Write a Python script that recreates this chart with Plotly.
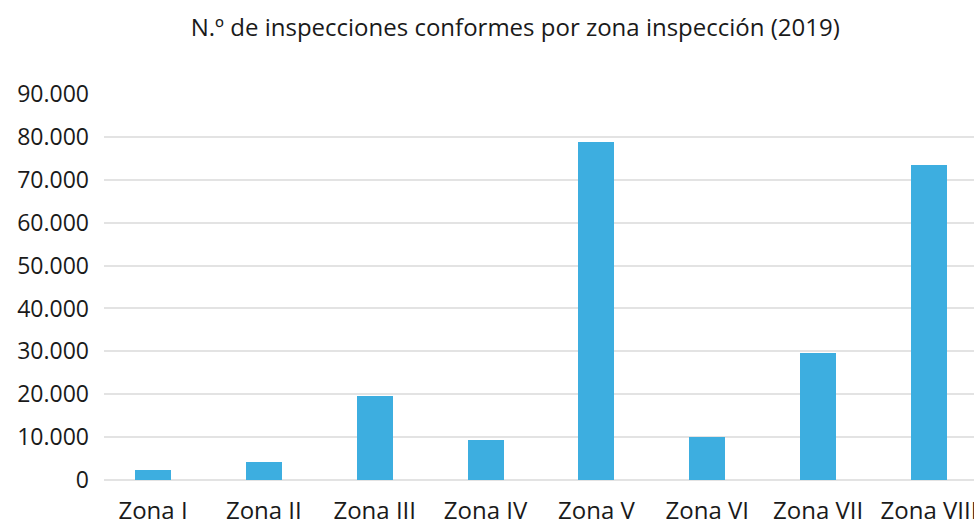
import plotly.graph_objects as go

categories = ["Zona I", "Zona II", "Zona III", "Zona IV", "Zona V", "Zona VI", "Zona VII", "Zona VIII"]
values = [2260, 4130, 19500, 9250, 78700, 10050, 29530, 73350]
tick_vals = [0, 10000, 20000, 30000, 40000, 50000, 60000, 70000, 80000, 90000]
tick_text = ["0", "10.000", "20.000", "30.000", "40.000", "50.000", "60.000", "70.000", "80.000", "90.000"]
title_text = "N.º de inspecciones conformes por zona inspección (2019)"

fig = go.Figure(go.Bar(x=list(range(len(categories))), y=values, width=0.325,
                       marker=dict(color="#3DAEE0", line=dict(width=0))))

fig.update_layout(
    width=974, height=525,
    margin=dict(l=104, r=0, t=94, b=45, pad=0),
    paper_bgcolor="white", plot_bgcolor="white",
    font=dict(family="Open Sans", color="#1a1a1a"),
    title=dict(text=title_text, x=0.529, xanchor="center", y=0.947, yanchor="middle",
               font=dict(size=24, family="Open Sans", color="#1a1a1a")),
    showlegend=False,
    bargap=0,
)
fig.update_xaxes(range=[-0.442, 7.406], tickvals=list(range(len(categories))), ticktext=categories,
                 showgrid=False, zeroline=False, showline=False, ticks="", automargin=False,
                 ticklabeloverflow="allow",
                 tickfont=dict(size=24), ticklabelstandoff=14)
fig.update_yaxes(range=[0, 90000], tickvals=tick_vals, ticktext=tick_text,
                 showgrid=True, gridcolor="#E3E3E3", gridwidth=1.5,
                 zeroline=True, zerolinecolor="#E3E3E3", zerolinewidth=2, automargin=False,
                 showline=False, ticks="", tickfont=dict(size=23), ticklabelstandoff=14)

fig.write_html("out.html", config={"displayModeBar": False},
               post_script="document.body.style.margin='0';document.body.style.overflow='hidden';")
